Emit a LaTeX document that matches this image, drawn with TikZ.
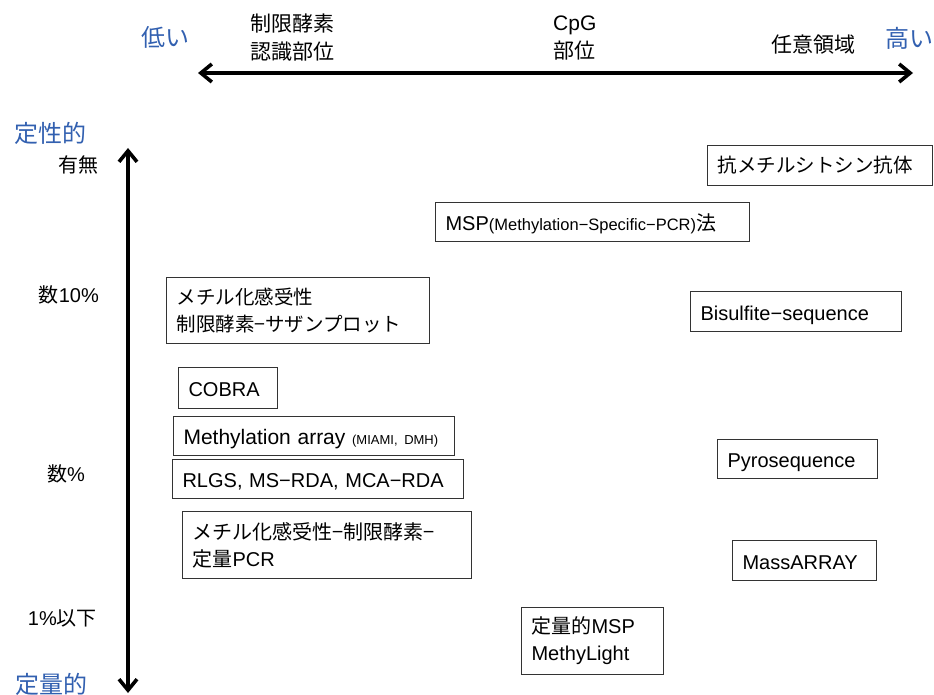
\documentclass[tikz,border=0pt]{standalone}
\usepackage{fontspec}
\setmainfont{Liberation Sans}
\newfontfamily\jpfont{Noto Sans CJK JP}
\usetikzlibrary{arrows.meta}
\definecolor{scaleblue}{RGB}{50,96,176}
\tikzset{
  ends/.style={font=\jpfont\fontsize{24}{28}\selectfont,text=scaleblue,inner sep=0pt},
  tick/.style={font=\fontsize{20}{24}\selectfont,inner sep=0pt,anchor=east},
  site/.style={font=\fontsize{21}{28}\selectfont,inner sep=0pt},
  method/.style n args={2}{draw=black!80,line width=1.1pt,anchor=north west,align=left,
    text width=#1pt-20pt,minimum height=#2pt,inner xsep=10pt,inner ysep=0pt,
    font=\fontsize{20}{27}\selectfont},
  oneline/.style={text height=17pt,text depth=0pt},
  jp/.style={font=\jpfont\fontsize{19.5}{27}\selectfont},
  scalearrow/.style={line width=3.6pt,>={Straight Barb[length=11pt,width=18pt]},<->}}

\begin{document}
\begin{tikzpicture}[x=1pt,y=-1pt]
\useasboundingbox (0,0) rectangle (934,695);
\coordinate (xl) at (198,73); \coordinate (xr) at (913,73);
\coordinate (yt) at (128,148); \coordinate (yb) at (128,693);
\draw[scalearrow] (xl) -- (xr);
\draw[scalearrow] (yt) -- (yb);
\node[ends] (low) at (165,37) {低い};
\node[ends] (high) at (909,38) {高い};
\node[ends] (qual) at (50,133) {定性的};
\node[ends] (quant) at (52,684) {定量的};
\node[site,align=center] (enzyme) at (292,38) {{\jpfont 制限酵素}\\{\jpfont 認識部位}};
\node[site,align=left,anchor=west] (cpg) at (553,38) {CpG\\{\jpfont 部位}};
\node[site] (any) at (813,45) {{\jpfont 任意領域}};
\node[tick] (t1) at (99,165) {{\jpfont 有無}};
\node[tick] (t2) at (99,295) {{\jpfont 数}10\%};
\node[tick] (t3) at (85,474) {{\jpfont 数}\%};
\node[tick] (t4) at (97,618) {1\%{\jpfont 以下}};
\node[method={225}{40},jp] (antibody) at (707,145) {抗メチルシトシン抗体};
\node[method={314}{39},oneline] (msp) at (435,202) {MSP{\fontsize{16.5}{20}\selectfont (Methylation−Specific−PCR)}{\jpfont 法}};
\node[method={211}{40},oneline] (bisulfite) at (690,291) {Bisulfite−sequence};
\node[method={263}{66},jp] (southern) at (166,277) {メチル化感受性\\制限酵素−サザンプロット};
\node[method={99}{41},oneline] (cobra) at (178,367) {COBRA};
\node[method={281}{39},oneline] (array) at (173,416) {{\fontsize{21}{27}\selectfont Methylation array} {\fontsize{13}{16}\selectfont (MIAMI, DMH)}};
\node[method={291}{39},oneline] (rlgs) at (172,459) {RLGS, MS−RDA, MCA−RDA};
\node[method={289}{67}] (qpcr) at (182,511) {{\jpfont メチル化感受性−制限酵素−}\\{\jpfont 定量}PCR};
\node[method={160}{39},oneline] (pyro) at (717,439) {Pyrosequence};
\node[method={144}{40},oneline] (massarray) at (732,540) {MassARRAY};
\node[method={142}{67}] (methylight) at (521,607) {{\jpfont 定量的}MSP\\MethyLight};
\end{tikzpicture}
\end{document}
